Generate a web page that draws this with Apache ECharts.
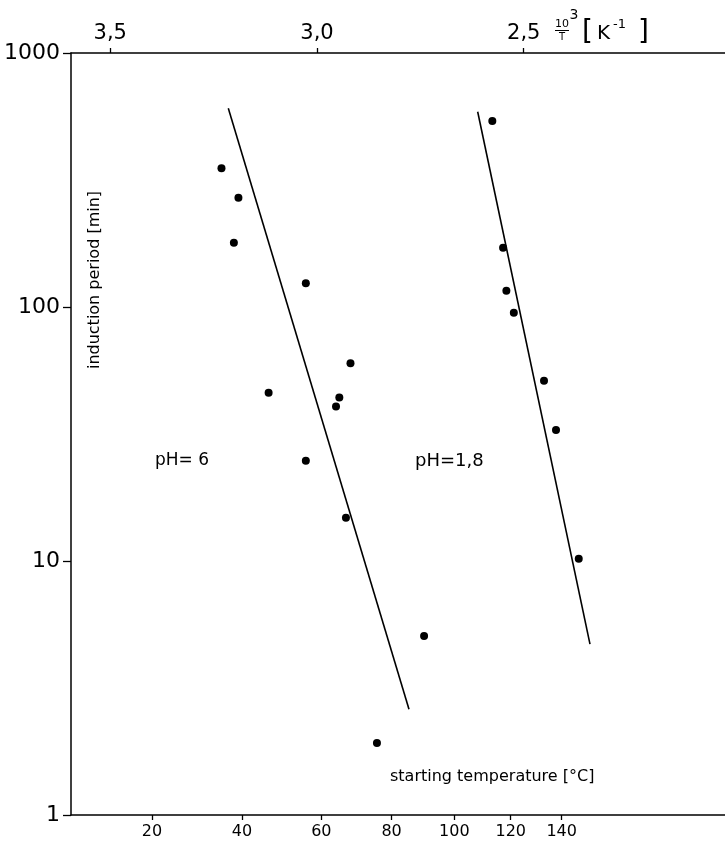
<!DOCTYPE html>
<html><head><meta charset="utf-8">
<script src="https://cdn.jsdelivr.net/npm/echarts@6/dist/echarts.min.js"></script>
<style>html,body{margin:0;padding:0;background:#fff}#c{width:725px;height:842px}</style>
</head><body><div id="c"></div>
<script>
// top axis ticks (10^3/T, K^-1) and bottom axis ticks (°C)
const invTempTicks = [3.5, 3.0, 2.5];
const celsiusTicks = [20, 40, 60, 80, 100, 120, 140];
// pH = 6 measurements: x = 10^3/T, y = induction period (min)
const ph6X = [3.231, 3.190, 3.201, 3.027, 2.919, 3.117, 2.946, 2.954, 3.027, 2.930, 2.741, 2.855];
const ph6Y = [352, 269, 179, 124, 60, 46, 44, 40.6, 24.8, 14.8, 5.07, 1.92];
// pH = 1,8 measurements
const ph18X = [2.576, 2.550, 2.542, 2.524, 2.451, 2.422, 2.367];
const ph18Y = [540, 171, 116, 95, 51.3, 32.8, 10.2];
// fitted lines (end points)
const fit6X = [3.2145, 2.7775];
const fit6Y = [606, 2.61];
const fit18X = [2.6114, 2.3398];
const fit18Y = [587, 4.71];

const zip = (a, b) => a.map((v, i) => [v, b[i]]);
const FONT = 'DejaVu Sans';
const xMin = 2.0133, xMax = 3.5949, shift = 0.0121;

const chart = echarts.init(document.getElementById('c'), null, {renderer: 'canvas'});
chart.setOption({
  animation: false,
  backgroundColor: '#fff',
  grid: {left: 71, right: 0, top: 53, bottom: 27, containLabel: false},
  xAxis: [{
    type: 'value', position: 'top', inverse: true, min: xMin, max: xMax,
    axisLine: {show: true, lineStyle: {color: '#000', width: 1.5}},
    axisTick: {show: true, length: 5, customValues: invTempTicks, lineStyle: {color: '#000', width: 1.3}},
    axisLabel: {show: true, customValues: invTempTicks, margin: 9, color: '#000', fontFamily: FONT, fontSize: 21,
      formatter: v => v.toFixed(1).replace('.', ',')},
    splitLine: {show: false}
  }, {
    type: 'value', position: 'bottom', inverse: true, min: xMin + shift, max: xMax + shift,
    axisLine: {show: true, lineStyle: {color: '#000', width: 1.5}},
    axisTick: {show: true, length: 5, customValues: celsiusTicks.map(t => 1000 / (t + 273.15)), lineStyle: {color: '#000', width: 1.3}},
    axisLabel: {show: true, customValues: celsiusTicks.map(t => 1000 / (t + 273.15)), margin: 9, color: '#000', fontFamily: FONT, fontSize: 16,
      formatter: v => String(Math.round(1000 / v - 273.15))},
    splitLine: {show: false}
  }],
  yAxis: [{
    type: 'log', logBase: 10, min: 1, max: 1000,
    axisLine: {show: true, lineStyle: {color: '#000', width: 1.5}},
    axisTick: {show: true, length: 8, lineStyle: {color: '#000', width: 1.3}},
    minorTick: {show: false},
    axisLabel: {show: true, margin: 11, color: '#000', fontFamily: FONT, fontSize: 22,
      formatter: v => String(Math.round(v))},
    splitLine: {show: false}
  }],
  series: [
    {type: 'line', xAxisIndex: 0, data: zip(fit6X, fit6Y), symbol: 'none', lineStyle: {color: '#000', width: 1.6}, silent: true},
    {type: 'line', xAxisIndex: 0, data: zip(fit18X, fit18Y), symbol: 'none', lineStyle: {color: '#000', width: 1.6}, silent: true},
    {type: 'scatter', xAxisIndex: 0, data: zip(ph6X, ph6Y), symbol: 'circle', symbolSize: 8, itemStyle: {color: '#000', opacity: 1}},
    {type: 'scatter', xAxisIndex: 0, data: zip(ph18X, ph18Y), symbol: 'circle', symbolSize: 8, itemStyle: {color: '#000', opacity: 1}}
  ],
  graphic: [
    {type: 'text', left: 155, top: 452, style: {text: 'pH= 6', font: '17px ' + FONT, fill: '#000'}},
    {type: 'text', left: 415, top: 452, style: {text: 'pH=1,8', font: '18px ' + FONT, fill: '#000'}},
    {type: 'text', x: 95, y: 280, rotation: Math.PI / 2,
      style: {text: 'induction period [min]', font: '16px ' + FONT, fill: '#000', align: 'center', verticalAlign: 'middle'}},
    {type: 'text', x: 390, y: 777,
      style: {text: 'starting temperature [°C]', font: '16px ' + FONT, fill: '#000', align: 'left', verticalAlign: 'middle'}},
    {type: 'text', x: 562, y: 24, style: {text: '10', font: '11px ' + FONT, fill: '#000', align: 'center', verticalAlign: 'middle'}},
    {type: 'line', shape: {x1: 555, y1: 30.5, x2: 569, y2: 30.5}, style: {stroke: '#000', lineWidth: 1}},
    {type: 'text', x: 562, y: 37, style: {text: 'T', font: '10px ' + FONT, fill: '#000', align: 'center', verticalAlign: 'middle'}},
    {type: 'text', x: 574, y: 15, style: {text: '3', font: '14px ' + FONT, fill: '#000', align: 'center', verticalAlign: 'middle'}},
    {type: 'text', x: 582, y: 33, style: {text: '[', font: '28px ' + FONT, fill: '#000', align: 'left', verticalAlign: 'middle'}},
    {type: 'text', x: 597, y: 34, style: {text: 'K', font: '20px ' + FONT, fill: '#000', align: 'left', verticalAlign: 'middle'}},
    {type: 'text', x: 613, y: 25, style: {text: '-1', font: '13px ' + FONT, fill: '#000', align: 'left', verticalAlign: 'middle'}},
    {type: 'text', x: 638, y: 33, style: {text: ']', font: '28px ' + FONT, fill: '#000', align: 'left', verticalAlign: 'middle'}}
  ]
});
</script>
</body></html>
